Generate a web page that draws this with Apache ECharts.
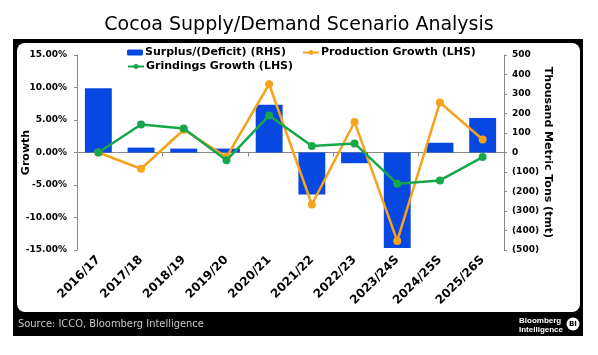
<!DOCTYPE html>
<html><head><meta charset="utf-8">
<script src="https://cdn.jsdelivr.net/npm/echarts@6/dist/echarts.min.js"></script>
<style>html,body{margin:0;padding:0;background:#fff}#c{width:598px;height:355px}</style>
</head><body><div id="c"></div>
<script>
const categories = ['2016/17','2017/18','2018/19','2019/20','2020/21','2021/22','2022/23','2023/24S','2024/25S','2025/26S'];
const surplusDeficit = [330, 25, 20, 20, 245, -215, -55, -490, 50, 177];
const productionGrowth = [0, -2.5, 3.5, -0.7, 10.5, -8.0, 4.7, -13.6, 7.7, 2.0];
const grindingsGrowth = [0, 4.3, 3.7, -1.2, 5.7, 1.0, 1.4, -4.8, -4.3, -0.7];
const leftTicks = {min: -15, max: 15, interval: 5};
const rightTicks = {min: -500, max: 500, interval: 100};

const chart = echarts.init(document.getElementById('c'), null, {renderer: 'canvas'});
const F = 'DejaVu Sans';
chart.setOption({
  backgroundColor: '#fff',
  animation: false,
  title: {text: 'Cocoa Supply/Demand Scenario Analysis', left: 'center', top: 11,
    textStyle: {fontFamily: F, fontSize: 19, fontWeight: 'normal', color: '#000'}},
  graphic: [
    {type: 'rect', z: -10, shape: {x: 13, y: 39, width: 570, height: 297}, style: {fill: '#000'}},
    {type: 'rect', z: -9, shape: {x: 17, y: 43, width: 563, height: 269, r: 8}, style: {fill: '#fff'}},
    {type: 'text', z: 5, left: 18, top: 319, style: {text: 'Source: ICCO, Bloomberg Intelligence', fill: '#c8c8c8', font: '11px "DejaVu Sans Condensed"'}},
    {type: 'text', z: 5, left: 519, top: 316, style: {text: 'Bloomberg\nIntelligence', fill: '#fff', font: 'bold 8px "Liberation Sans"', lineHeight: 9}},
    {type: 'circle', z: 5, shape: {cx: 573, cy: 324, r: 6.5}, style: {fill: '#fff'}},
    {type: 'text', z: 6, x: 573, y: 324.5, style: {text: 'BI', fill: '#000', font: 'bold 7px "DejaVu Sans"', align: 'center', verticalAlign: 'middle'}}
  ],
  legend: [
    {left: 122, top: 42, itemWidth: 16, itemHeight: 6, itemGap: 16, data: ['Surplus/(Deficit) (RHS)', 'Production Growth (LHS)'],
      textStyle: {fontFamily: F, fontSize: 11, fontWeight: 'bold', color: '#000', padding: [0,0,0,-3]}},
    {left: 122, top: 56, itemWidth: 16, itemHeight: 6, data: ['Grindings Growth (LHS)'],
      textStyle: {fontFamily: F, fontSize: 11, fontWeight: 'bold', color: '#000', padding: [0,0,0,-3]}}
  ],
  grid: {left: 77, right: 94, top: 55, bottom: 105},
  xAxis: [
    {type: 'category', data: categories, position: 'bottom',
      axisLine: {show: false}, axisTick: {show: false},
      axisLabel: {rotate: 45, interval: 0, margin: 8, fontFamily: F, fontSize: 12, fontWeight: 'bold', color: '#000'}},
    {type: 'category', data: categories, position: 'top',
      axisLine: {onZero: true, onZeroAxisIndex: 0, lineStyle: {color: '#888', width: 1}},
      axisTick: {show: true, inside: true, length: 4, lineStyle: {color: '#888'}},
      axisLabel: {show: false}}
  ],
  yAxis: [
    {type: 'value', min: leftTicks.min, max: leftTicks.max, interval: leftTicks.interval,
      name: 'Growth', nameLocation: 'middle', nameGap: 45, nameRotate: 90, nameMoveOverlap: false,
      nameTextStyle: {fontFamily: F, fontSize: 11, fontWeight: 'bold', color: '#000'},
      axisLine: {show: true, lineStyle: {color: '#888'}},
      axisTick: {show: true, length: 3, lineStyle: {color: '#888'}},
      splitLine: {show: false},
      axisLabel: {margin: 10, fontFamily: F, fontSize: 9, fontWeight: 'bold', color: '#000',
        formatter: v => v.toFixed(2) + '%'}},
    {type: 'value', min: rightTicks.min, max: rightTicks.max, interval: rightTicks.interval, position: 'right',
      name: 'Thousand Metric Tons (tmt)', nameLocation: 'middle', nameGap: 38, nameRotate: -90, nameMoveOverlap: false,
      nameTextStyle: {fontFamily: F, fontSize: 11, fontWeight: 'bold', color: '#000'},
      axisLine: {show: true, lineStyle: {color: '#888'}},
      axisTick: {show: true, length: 3, lineStyle: {color: '#888'}},
      splitLine: {show: false},
      axisLabel: {margin: 8, fontFamily: F, fontSize: 9, fontWeight: 'bold', color: '#000',
        formatter: v => v < 0 ? '(' + Math.abs(v) + ')' : String(v)}}
  ],
  series: [
    {name: 'Surplus/(Deficit) (RHS)', type: 'bar', xAxisIndex: 0, yAxisIndex: 1, data: surplusDeficit,
      barWidth: '63%', itemStyle: {color: '#0748e3'}, z: 2},
    {name: 'Production Growth (LHS)', type: 'line', xAxisIndex: 0, yAxisIndex: 0, data: productionGrowth,
      symbol: 'circle', symbolSize: 8, lineStyle: {color: '#f7a21b', width: 2.5}, itemStyle: {color: '#f7a21b'}, z: 3},
    {name: 'Grindings Growth (LHS)', type: 'line', xAxisIndex: 0, yAxisIndex: 0, data: grindingsGrowth,
      symbol: 'circle', symbolSize: 8, lineStyle: {color: '#16a74a', width: 2.5}, itemStyle: {color: '#16a74a'}, z: 4}
  ]
});
</script></body></html>
